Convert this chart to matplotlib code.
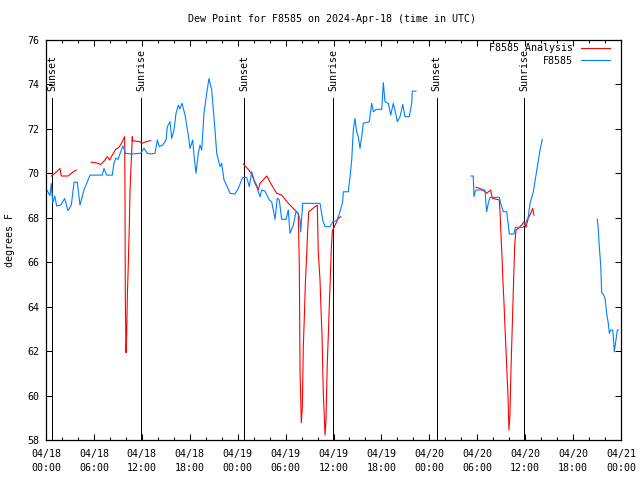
import numpy as np
import matplotlib
matplotlib.use("Agg")
import matplotlib.pyplot as plt
from matplotlib.ticker import MultipleLocator

# ---------------------------------------------------------------------------
# Data (hours since 2024-04-18 00:00 UTC, dew point in deg F)
# ---------------------------------------------------------------------------
obs_hours = [
    0.09, 0.5, 0.66, 0.84, 1.09, 1.34, 1.84, 2.34, 2.75, 3.17, 3.51, 3.92, 4.26,
    4.76, 5.51, 7.05, 7.26, 7.6, 8.3, 8.51, 8.73, 9.02, 9.35, 9.64, 9.98, 10.61,
    11.86, 12.27, 12.69, 13.11, 13.65, 13.94, 14.19, 14.61, 15.03, 15.19, 15.53,
    15.74, 16.03, 16.28, 16.57, 16.78, 17.03, 17.41, 17.82, 18.03, 18.37, 18.53,
    18.78, 19.07, 19.28, 19.5, 19.78, 20.12, 20.41, 20.75, 21.16, 21.38, 21.79,
    22.0, 22.29, 22.7, 23.04, 23.67, 24.08, 24.63, 25.13, 25.46, 25.76, 26.05,
    26.38, 26.58, 26.8, 27.01, 27.42, 27.96, 28.26, 28.46, 28.68, 28.96, 29.21,
    29.51, 30.05, 30.34, 30.55, 30.97, 31.3, 31.59, 31.81, 31.89, 32.14, 34.31,
    34.65, 34.94, 35.56, 35.9, 36.4, 36.73, 37.15, 37.23, 37.85, 38.07, 38.28,
    38.48, 38.69, 38.9, 39.11, 39.32, 39.53, 39.73, 40.48, 40.78, 40.99, 41.32,
    42.04, 42.24, 42.45, 42.86, 43.16, 43.49, 43.83, 43.99, 44.33, 44.67, 44.95,
    45.49, 45.79, 45.87, 46.33,
    np.nan,
    53.22, 53.5, 53.59, 53.72, 53.84, 54.97, 55.06, 55.18, 55.38, 55.6, 56.76,
    56.94, 57.26, 57.69, 57.89, 58.02, 58.6, 58.77, 59.69, 59.98, 60.39, 60.61,
    61.02, 61.36, 61.86, 62.15,
    np.nan,
    69.03, 69.16, 69.28, 69.46, 69.58, 69.78, 70.0, 70.21, 70.41, 70.54, 70.71,
    70.96, 71.04, 71.16, 71.37, 71.54, 71.66,
]
obs_dewpt = [
    69.25, 69.0, 69.55, 68.66, 68.98, 68.53, 68.57, 68.87, 68.32, 68.57, 69.6,
    69.6, 68.57, 69.25, 69.92, 69.92, 70.22, 69.92, 69.92, 70.45, 70.68, 70.63,
    70.97, 71.23, 70.9, 70.87, 70.9, 71.13, 70.9, 70.87, 70.9, 71.5, 71.2, 71.27,
    71.5, 72.1, 72.32, 71.57, 71.95, 72.7, 73.07, 72.9, 73.15, 72.62, 71.72,
    71.12, 71.5, 70.82, 70.0, 70.9, 71.27, 71.05, 72.7, 73.6, 74.27, 73.75,
    71.95, 70.9, 70.3, 70.45, 69.7, 69.4, 69.1, 69.07, 69.33, 69.82, 69.82,
    69.4, 70.07, 69.7, 69.47, 69.17, 68.95, 69.25, 69.2, 68.8, 68.72, 68.35,
    67.93, 68.88, 68.8, 67.93, 67.93, 68.35, 67.3, 67.67, 68.27, 68.2, 67.9,
    67.37, 68.65, 68.65, 67.9, 67.6, 67.6, 67.82, 67.87, 68.17, 68.72, 69.17,
    69.17, 69.85, 70.6, 71.95, 72.47, 71.87, 71.65, 71.12, 71.65, 72.25, 72.32,
    73.15, 72.77, 72.88, 72.88, 74.08, 73.22, 73.15, 72.62, 73.15, 72.62, 72.32,
    72.55, 73.1, 72.55, 72.55, 73.15, 73.7, 73.7,
    np.nan,
    69.88, 69.88, 68.95, 69.17, 69.25, 69.25, 68.8, 68.27, 68.65, 68.92, 68.92,
    68.65, 68.27, 68.27, 67.67, 67.27, 67.27, 67.57, 67.57, 67.67, 68.05, 68.65,
    69.17, 69.92, 71.05, 71.53,
    np.nan,
    67.94, 67.45, 66.7, 65.87, 64.63, 64.57, 64.37, 63.7, 63.25, 62.8, 62.95,
    62.95, 62.65, 61.97, 62.5, 62.95, 62.95,
]

ana_hours = [
    0.66, 1.21, 1.75, 1.92, 2.75, 3.42, 3.79,
    np.nan,
    5.67, 6.22, 6.85, 7.26, 7.68, 7.98, 8.3, 8.73, 9.14, 9.55, 9.85, 9.89, 9.93,
    10.02, 10.1, 10.18, 10.31, 10.43, 10.52, 10.81, 10.81, 11.77, 12.06, 12.48,
    13.11,
    np.nan,
    24.71, 25.33, 25.76, 26.17, 26.58, 26.8, 27.64, 28.26, 28.89, 29.51, 30.34,
    31.39, 31.59, 31.72, 31.81, 31.97, 32.1, 32.22, 32.35, 32.47, 32.64, 32.77,
    32.9, 33.81, 33.97, 34.09, 34.31, 34.43, 34.56, 34.72, 34.94, 35.06, 35.22,
    35.35, 35.47, 35.6, 35.72, 35.85, 35.9, 36.3, 36.6, 36.9,
    np.nan,
    53.84, 54.26, 54.56, 54.97, 55.18, 55.38, 55.68, 55.88, 56.22, 56.76, 56.85,
    56.97, 57.1, 57.22, 57.35, 57.47, 57.6, 57.72, 57.85, 57.97, 58.1, 58.19,
    58.31, 58.44, 58.56, 58.69, 58.85, 59.14, 59.56, 59.85, 60.1, 60.39, 60.69,
    60.94, 61.1,
]
ana_dewpt = [
    69.88, 70.03, 70.22, 69.88, 69.88, 70.07, 70.15,
    np.nan,
    70.5, 70.48, 70.4, 70.55, 70.75, 70.6, 70.82, 71.08, 71.17, 71.42, 71.65,
    69.25, 64.4, 61.93, 62.7, 64.4, 65.96, 67.6, 69.25, 71.65, 71.47, 71.42,
    71.35, 71.42, 71.47,
    np.nan,
    70.42, 70.18, 69.97, 69.55, 69.25, 69.55, 69.88, 69.47, 69.1, 69.02, 68.65,
    68.27, 68.2, 65.8, 61.07, 58.78, 59.5, 62.2, 63.55, 64.97, 66.32, 67.45,
    68.27, 68.53, 68.57, 66.47, 65.2, 63.93, 62.72, 60.17, 58.22, 58.9, 61.45,
    62.7, 64.0, 65.28, 66.55, 67.37, 67.45, 67.75, 67.98, 68.05,
    np.nan,
    69.37, 69.33, 69.28, 69.17, 69.1, 69.17, 69.25, 68.88, 68.85, 68.8, 68.27,
    67.22, 66.25, 65.12, 64.15, 63.1, 62.05, 61.03, 59.95, 58.45, 59.2, 60.7,
    62.2, 63.77, 65.28, 66.77, 67.45, 67.52, 67.67, 67.82, 67.57, 67.98, 68.2,
    68.42, 68.12,
]

# sunset / sunrise markers
sun_hours = [0.79, 11.94, 24.79, 35.98, 48.92, 59.9]
sun_labels = ["Sunset", "Sunrise", "Sunset", "Sunrise", "Sunset", "Sunrise"]

tick_hours = [0, 6, 12, 18, 24, 30, 36, 42, 48, 54, 60, 66, 72]
tick_labels = [
    "04/18\n00:00", "04/18\n06:00", "04/18\n12:00", "04/18\n18:00",
    "04/19\n00:00", "04/19\n06:00", "04/19\n12:00", "04/19\n18:00",
    "04/20\n00:00", "04/20\n06:00", "04/20\n12:00", "04/20\n18:00",
    "04/21\n00:00",
]

# ---------------------------------------------------------------------------
plt.rcParams["font.family"] = "DejaVu Sans Mono"
plt.rcParams["font.size"] = 7.2

fig = plt.figure(figsize=(6.4, 4.8), dpi=100)
ax = fig.add_axes([46 / 640, 40 / 480, 575 / 640, 400 / 480])

for h, lab in zip(sun_hours, sun_labels):
    ax.axvline(h, ymin=0, ymax=0.855, color="black", linewidth=0.72,
               antialiased=False)
    ax.text(h, 0.872, lab, transform=ax.get_xaxis_transform(),
            rotation=90, ha="center", va="bottom")

ax.plot(ana_hours, ana_dewpt, color="#ff0000", linewidth=0.8,
        label="F8585 Analysis")
ax.plot(obs_hours, obs_dewpt, color="#0080ff", linewidth=0.8, label="F8585")

ax.set_xlim(0, 72)
ax.set_ylim(58, 76)
ax.set_xticks(tick_hours)
ax.set_xticklabels(tick_labels, linespacing=1.45)
ax.xaxis.set_minor_locator(MultipleLocator(2))
ax.yaxis.set_major_locator(MultipleLocator(2))

ax.tick_params(which="both", direction="in", top=True, right=True,
               width=0.75, colors="black")
ax.tick_params(which="major", length=4)
ax.tick_params(which="minor", length=2.5)
ax.tick_params(axis="x", which="major", pad=6.5)
ax.tick_params(axis="y", which="major", pad=4.5)
for sp in ax.spines.values():
    sp.set_linewidth(0.9)

ax.legend(loc="upper right", bbox_to_anchor=(610 / 640, 1 - 43 / 480),
          bbox_transform=fig.transFigure, frameon=False, markerfirst=False,
          handlelength=2.9, handletextpad=0.8, labelspacing=0.25,
          borderpad=0, borderaxespad=0)

fig.text(332 / 640, 1 - 19 / 480,
         "Dew Point for F8585 on 2024-Apr-18 (time in UTC)",
         ha="center", va="center")
fig.text(10 / 640, 0.5, "degrees F", rotation=90, ha="center", va="center")

fig.savefig("out.png", dpi=100)
